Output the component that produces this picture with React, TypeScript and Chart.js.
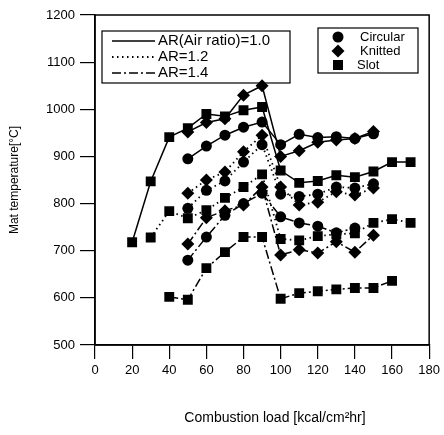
import React, { useEffect, useRef } from "react";
import { Chart, registerables } from "chart.js";

Chart.register(...registerables);

// ---- data ----
const loadsCK = [50, 60, 70, 80, 90, 100, 110, 120, 130, 140, 150];
const loadsCirc14 = [50, 60, 70, 80, 90, 100, 110, 120, 130, 140];
const loadsSlot10 = [20, 30, 40, 50, 60, 70, 80, 90, 100, 110, 120, 130, 140, 150, 160, 170];
const loadsSlot12 = [30, 40, 50, 60, 70, 80, 90, 100, 110, 120, 130, 140, 150, 160, 170];
const loadsSlot14 = [40, 50, 60, 70, 80, 90, 100, 110, 120, 130, 140, 150, 160];

const circ10 = [895, 922, 945, 962, 973, 925, 947, 940, 942, 938, 948];
const knit10 = [952, 972, 980, 1030, 1050, 900, 912, 930, 935, 938, 953];
const slot10 = [718, 847, 941, 960, 990, 985, 998, 1005, 870, 844, 848, 860, 856, 868, 888, 888];

const circ12 = [790, 828, 848, 888, 925, 820, 815, 820, 835, 833, 842];
const knit12 = [822, 850, 867, 910, 945, 835, 797, 803, 825, 818, 833];
const slot12 = [728, 784, 769, 786, 812, 835, 862, 725, 722, 731, 735, 737, 759, 767, 759];

const circ14 = [680, 729, 775, 800, 822, 772, 759, 752, 738, 748];
const knit14 = [714, 770, 785, 797, 835, 691, 702, 695, 719, 697, 733];
const slot14 = [602, 596, 663, 697, 729, 729, 598, 610, 614, 618, 621, 621, 636];

const arLabels = ["AR(Air ratio)=1.0", "AR=1.2", "AR=1.4"];
const typeLabels = ["Circular", "Knitted", "Slot"];
const xTicks = [0, 20, 40, 60, 80, 100, 120, 140, 160, 180];
const yTicks = [500, 600, 700, 800, 900, 1000, 1100, 1200];
const xTitle = "Combustion load [kcal/cm\u00B2hr]";
const yTitle = "Mat temperature[\u00B0C]";

const FONT = "'Liberation Sans', Arial, Helvetica, sans-serif";
const dashes: number[][] = [[], [1.5, 3.5], [9, 3, 2, 3]];
const lineWidths = [1.5, 1.8, 1.5];

function pts(xs: number[], ys: number[]) {
  return xs.map((x, i) => ({ x, y: ys[i] }));
}

function ds(label: string, xs: number[], ys: number[], ar: number, shape: string) {
  const radius = shape === "circle" ? 5.5 : shape === "rectRot" ? 6.5 : 7;
  return {
    label,
    data: pts(xs, ys),
    showLine: true,
    borderColor: "#000",
    backgroundColor: "#000",
    borderWidth: lineWidths[ar],
    borderDash: dashes[ar],
    pointStyle: shape,
    pointRadius: radius,
    pointBorderWidth: 0,
    pointBackgroundColor: "#000",
    pointBorderColor: "#000",
    tension: 0,
  };
}

function drawMarker(ctx: CanvasRenderingContext2D, shape: string, x: number, y: number) {
  ctx.beginPath();
  if (shape === "circle") {
    ctx.arc(x, y, 5.5, 0, Math.PI * 2);
  } else if (shape === "rectRot") {
    ctx.moveTo(x, y - 6.5);
    ctx.lineTo(x + 6.5, y);
    ctx.lineTo(x, y + 6.5);
    ctx.lineTo(x - 6.5, y);
    ctx.closePath();
  } else {
    ctx.rect(x - 5, y - 5, 10, 10);
  }
  ctx.fill();
}

const decorPlugin = {
  id: "decor",
  afterDraw(chart: any) {
    const { ctx, chartArea: a } = chart;
    ctx.save();
    ctx.strokeStyle = "#000";
    ctx.fillStyle = "#000";
    ctx.lineWidth = 1.5;
    ctx.setLineDash([]);
    ctx.strokeRect(a.left, a.top, a.right - a.left, a.bottom - a.top);

    // AR legend
    ctx.lineWidth = 1.2;
    ctx.strokeRect(102, 31, 188, 52);
    const rows = [41, 57, 73];
    ctx.font = `15px ${FONT}`;
    ctx.textBaseline = "middle";
    ctx.textAlign = "left";
    arLabels.forEach((t, i) => {
      ctx.setLineDash(dashes[i]);
      ctx.lineWidth = lineWidths[i];
      ctx.beginPath();
      ctx.moveTo(112, rows[i]);
      ctx.lineTo(155, rows[i]);
      ctx.stroke();
      ctx.setLineDash([]);
      ctx.fillText(t, 158, rows[i]);
    });

    // shape legend
    ctx.lineWidth = 1.2;
    ctx.strokeRect(318, 28, 100, 45);
    const shapes = ["circle", "rectRot", "rect"];
    const srows = [37, 51, 65];
    ctx.font = `13px ${FONT}`;
    typeLabels.forEach((t, i) => {
      drawMarker(ctx, shapes[i], 338, srows[i]);
      ctx.fillText(t, i === 2 ? 357 : 360, srows[i]);
    });

    // x title
    ctx.font = `14px ${FONT}`;
    ctx.textAlign = "center";
    ctx.fillText(xTitle, 275, 418);
    ctx.restore();
  },
};

export default function App() {
  const ref = useRef<HTMLCanvasElement>(null);
  useEffect(() => {
    if (!ref.current) return;
    const chart = new Chart(ref.current, {
      type: "scatter",
      data: {
        datasets: [
          ds("Circular AR=1.0", loadsCK, circ10, 0, "circle"),
          ds("Knitted AR=1.0", loadsCK, knit10, 0, "rectRot"),
          ds("Slot AR=1.0", loadsSlot10, slot10, 0, "rect"),
          ds("Circular AR=1.2", loadsCK, circ12, 1, "circle"),
          ds("Knitted AR=1.2", loadsCK, knit12, 1, "rectRot"),
          ds("Slot AR=1.2", loadsSlot12, slot12, 1, "rect"),
          ds("Circular AR=1.4", loadsCirc14, circ14, 2, "circle"),
          ds("Knitted AR=1.4", loadsCK, knit14, 2, "rectRot"),
          ds("Slot AR=1.4", loadsSlot14, slot14, 2, "rect"),
        ] as any,
      },
      options: {
        animation: false,
        responsive: false,
        maintainAspectRatio: false,
        layout: { padding: { left: 0, top: 15, right: 12, bottom: 0 } },
        plugins: {
          legend: { display: false },
          tooltip: { enabled: false },
        },
        scales: {
          x: {
            type: "linear",
            min: xTicks[0],
            max: xTicks[xTicks.length - 1],
            afterBuildTicks: (s: any) => {
              s.ticks = xTicks.map((v) => ({ value: v }));
            },
            afterFit: (s: any) => {
              s.height = 90;
            },
            ticks: {
              color: "#000",
              font: { family: FONT, size: 13 },
              padding: 4,
              maxRotation: 0,
              callback: (v: any) => String(v),
            },
            grid: {
              drawOnChartArea: false,
              drawTicks: true,
              tickLength: 14,
              color: "#000",
              lineWidth: 1.2,
            },
            border: { display: true, color: "#000", width: 1.5 },
          },
          y: {
            type: "linear",
            min: yTicks[0],
            max: yTicks[yTicks.length - 1],
            afterBuildTicks: (s: any) => {
              s.ticks = yTicks.map((v) => ({ value: v }));
            },
            afterFit: (s: any) => {
              s.width = 95;
            },
            ticks: {
              color: "#000",
              font: { family: FONT, size: 13 },
              padding: 5,
              callback: (v: any) => String(v),
            },
            grid: {
              drawOnChartArea: false,
              drawTicks: true,
              tickLength: 15,
              color: "#000",
              lineWidth: 1.2,
            },
            border: { display: true, color: "#000", width: 1.5 },
            title: {
              display: true,
              text: yTitle,
              color: "#000",
              font: { family: FONT, size: 12 },
              padding: { top: 7, bottom: 0 },
            },
          },
        },
      } as any,
      plugins: [decorPlugin],
    });
    return () => chart.destroy();
  }, []);

  return (
    <div style={{ position: "absolute", left: 0, top: 0, width: 444, height: 435, background: "#fff" }}>
      <canvas ref={ref} width={444} height={435} style={{ width: 444, height: 435, display: "block" }} />
    </div>
  );
}
